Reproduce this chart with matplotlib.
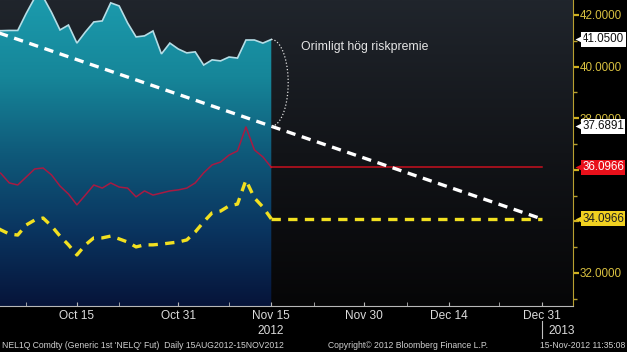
import numpy as np
import pandas as pd
import matplotlib
matplotlib.use('Agg')
import matplotlib.pyplot as plt
import matplotlib.transforms as mtransforms
from matplotlib.colors import LinearSegmentedColormap

plt.rcParams['font.family'] = ['Liberation Sans', 'DejaVu Sans']

# ---------------- data ----------------
hist_dates = list(pd.bdate_range('2012-10-01', '2012-11-15').strftime('%Y-%m-%d'))
price = [41.40, 41.39, 41.40, 41.40, 42.06, 42.66, 42.70, 42.10, 41.42, 41.61,
         40.91, 41.34, 41.73, 41.77, 42.47, 42.35, 41.69, 41.15, 41.19, 41.38,
         40.49, 40.91, 40.68, 40.53, 40.57, 40.06, 40.26, 40.22, 40.37, 40.33,
         41.03, 41.03, 40.91, 41.05]
red_hist = [36.05, 35.86, 35.49, 35.41, 35.72, 36.03, 36.07, 35.80, 35.37, 35.06,
            34.64, 35.02, 35.41, 35.29, 35.49, 35.33, 35.29, 34.95, 35.18, 35.02,
            35.10, 35.18, 35.22, 35.29, 35.49, 35.88, 36.19, 36.30, 36.57, 36.73,
            37.66, 36.77, 36.50, 36.0966]
yellow_hist = [33.85, 33.67, 33.51, 33.47, 33.86, 34.05, 34.13, 33.82, 33.43, 33.09,
               32.70, 33.09, 33.36, 33.36, 33.43, 33.32, 33.20, 33.01, 33.09, 33.09,
               33.12, 33.16, 33.20, 33.28, 33.59, 33.98, 34.33, 34.40, 34.60, 34.67,
               35.60, 34.91, 34.56, 34.0966]
fwd_dates = ['2012-11-15', '2012-12-31']
red_fwd = [36.0966, 36.0966]
yellow_fwd = [34.0966, 34.0966]
trend_dates = ['2012-10-01', '2012-12-31']
trend_vals = [41.39, 34.0966]

major_dates = ['2012-10-15', '2012-10-31', '2012-11-15', '2012-11-30', '2012-12-14', '2012-12-31']
major_labels = ['Oct 15', 'Oct 31', 'Nov 15', 'Nov 30', 'Dec 14', 'Dec 31']
minor_dates = ['2012-10-05', '2012-10-22', '2012-11-08', '2012-11-22', '2012-12-07', '2012-12-24']
y_major = [32, 34, 36, 38, 40, 42]
y_minor = [31, 33, 35, 37, 39, 41]
y_labels = ['32.0000', '', '', '38.0000', '40.0000', '42.0000']

last_texts = ['41.0500', '37.6891', '36.0966', '34.0966']
last_vals = [41.05, 37.6891, 36.0966, 34.0966]
last_face = ['white', 'white', '#e8101a', '#f0d020']
last_fg = ['#101010', '#101010', 'white', '#202020']

note_text = 'Orimligt hög riskpremie'
footer_left = "NEL1Q Comdty (Generic 1st 'NELQ' Fut)  Daily 15AUG2012-15NOV2012"
footer_mid = 'Copyright\u00a9 2012 Bloomberg Finance L.P.'
footer_right = '15-Nov-2012 11:35:08'


def bx(dates):
    return np.busday_count(np.datetime64('2012-10-15'),
                           np.array(dates, dtype='datetime64[D]')).astype(float)


W, H = 627, 352
fig = plt.figure(figsize=(W / 100, H / 100), dpi=100, facecolor='black')
ax = fig.add_axes([0, 1 - 306 / H, 573 / W, 306 / H])
ax.set_facecolor('black')
XL = (-9.1, 58.7)
YL = (30.72, 42.58)
ax.set_xlim(*XL)
ax.set_ylim(*YL)

# background gradient
bg = LinearSegmentedColormap.from_list('bg', ['#060607', '#121418', '#20252c'])
grad = np.linspace(0, 1, 256).reshape(-1, 1)
ax.imshow(grad, cmap=bg, origin='lower', extent=[0, 1, 0, 1], transform=ax.transAxes,
          aspect='auto', zorder=0)

# teal area with gradient
xh = bx(hist_dates)
poly = ax.fill_between(xh, price, YL[0], color='none', lw=0, zorder=1)
teal = LinearSegmentedColormap.from_list('teal', ['#06143a', '#0a3560', '#0f5a7a', '#168699', '#1b9aac'])
im = ax.imshow(grad, cmap=teal, origin='lower', extent=[XL[0], XL[1], YL[0], YL[1]],
               aspect='auto', zorder=1)
im.set_clip_path(poly.get_paths()[0], transform=ax.transData)
ax.plot(xh, price, color='#b5dde6', lw=1.2, zorder=3, solid_joinstyle='miter')

# red and yellow series
ax.plot(xh, red_hist, color='#a81a42', lw=1.1, zorder=3)
ax.plot(bx(fwd_dates), red_fwd, color='#c8101e', lw=1.1, zorder=3)
ax.plot(xh, yellow_hist, color='#f2e020', lw=2.4, dashes=(2.8, 2.2), zorder=4)
ax.plot(bx(fwd_dates), yellow_fwd, color='#f2e020', lw=2.4, dashes=(2.8, 2.2), zorder=4)

# white trend
ax.plot(bx(trend_dates), trend_vals, color='white', lw=2.4, dashes=(2.8, 2.0), zorder=5)

# dotted arc annotation
t = np.linspace(0, np.pi, 60)
xc = bx(['2012-11-15'])[0]
ax.plot(xc + 2.0 * np.sin(t), 39.37 + 1.68 * np.cos(t), color='#e0e0e0', lw=0.9,
        ls=(0, (1, 1.6)), zorder=5)
ax.text(26.5, 40.74, note_text, color='#e6e6e6', fontsize=8.8, va='center', ha='left', zorder=6)

# axes styling
for s in ['top', 'left']:
    ax.spines[s].set_visible(False)
ax.spines['bottom'].set_color('#b8b8b8')
ax.spines['right'].set_color('#b8a030')
ax.spines['bottom'].set_zorder(6)

ax.set_xticks(bx(major_dates))
ax.set_xticklabels(major_labels)
ax.set_xticks(bx(minor_dates), minor=True)
ax.tick_params(axis='x', which='both', direction='in', length=3, color='#b8b8b8',
               labelcolor='#dcdcdc', labelsize=8.6, pad=3)

ax.yaxis.tick_right()
ax.set_yticks(y_major)
ax.set_yticklabels(y_labels)
ax.set_yticks(y_minor, minor=True)
ax.tick_params(axis='y', which='major', direction='out', length=4, width=1.6,
               color='#d0b020', labelcolor='#d8c040', labelsize=8.4, pad=1)
ax.tick_params(axis='y', which='minor', direction='out', length=3, width=1,
               color='#b8a030')

# last-value boxes with small pointers
blend = mtransforms.blended_transform_factory(ax.transAxes, ax.transData)
for txt, v, fc, fg in zip(last_texts, last_vals, last_face, last_fg):
    ax.annotate(txt, xy=(1, v), xycoords=blend, xytext=(6.6, 0),
                textcoords='offset points', ha='left', va='center', fontsize=8.4,
                color=fg, zorder=10, annotation_clip=False,
                bbox=dict(boxstyle='square,pad=0.12', fc=fc, ec='none'))
    tri = mtransforms.offset_copy(blend, fig=fig, x=4.6, y=0, units='points')
    ax.plot([1], [v], marker='<', ms=6, color=fc, mec='none', transform=tri,
            clip_on=False, zorder=10)


def fx(x):
    return x / W


def fy(y):
    return 1 - y / H


fig.text(fx(271), fy(331), '2012', color='#dcdcdc', fontsize=8.6, ha='center', va='center')
fig.text(fx(548), fy(331), '2013', color='#dcdcdc', fontsize=8.6, ha='left', va='center')
fig.add_artist(plt.Line2D([fx(542), fx(542)], [fy(321), fy(338)], color='#c0c0c0', lw=0.8))

fig.text(fx(2), fy(345), footer_left, color='#d0d0d0', fontsize=6.2, ha='left', va='center')
fig.text(fx(328), fy(345), footer_mid, color='#d0d0d0', fontsize=6.2, ha='left', va='center')
fig.text(fx(625), fy(345), footer_right, color='#d0d0d0', fontsize=6.2, ha='right', va='center')

fig.savefig('out.png', dpi=100, facecolor='black')
